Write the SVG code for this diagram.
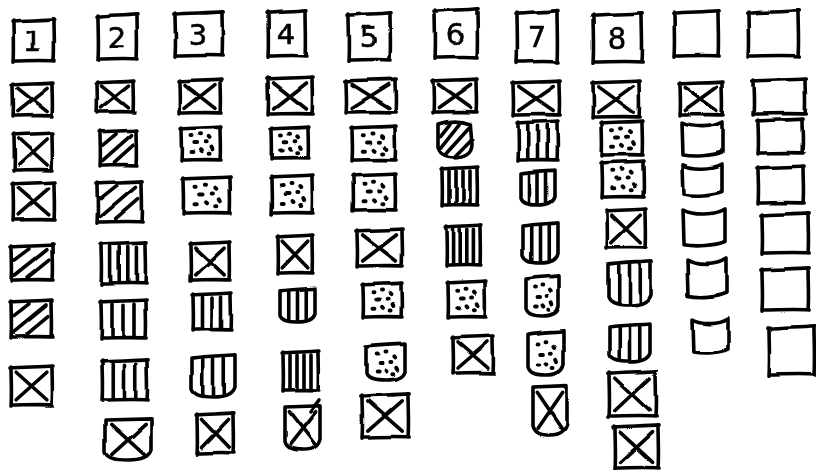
<svg xmlns="http://www.w3.org/2000/svg" xmlns:xlink="http://www.w3.org/1999/xlink" width="816" height="470" viewBox="0 0 816 470">
<style>
.d{font-family:"DejaVu Sans",sans-serif;font-size:29px;fill:#000;stroke:#000;stroke-width:0.6;text-anchor:middle;dominant-baseline:central}
</style>
<defs>
<filter id="wob" x="-5%" y="-5%" width="110%" height="110%">
<feTurbulence type="fractalNoise" baseFrequency="0.025" numOctaves="1" seed="3" result="n"/>
<feDisplacementMap in="SourceGraphic" in2="n" scale="4" xChannelSelector="R" yChannelSelector="G"/>
</filter>
<symbol id="be" viewBox="0 0 40 36" preserveAspectRatio="none" overflow="visible">
<path vector-effect="non-scaling-stroke" d="M-1,1 C12,0 28,0 41,-1 M40,-1 C40,12 41,24 40,36 M41,36 C28,35 12,36 0,36 M0,37 C1,24 0,12 0,0"/>
</symbol>
<symbol id="bx" viewBox="0 0 40 36" preserveAspectRatio="none" overflow="visible">
<path vector-effect="non-scaling-stroke" d="M-1,1 C12,0 28,0 41,-1 M40,-1 C40,12 41,24 40,36 M41,36 C28,35 12,36 0,36 M0,37 C1,24 0,12 0,0"/>
<path vector-effect="non-scaling-stroke" d="M5,5 L35,31 M35,5 L5,31"/>
</symbol>
<symbol id="bh" viewBox="0 0 40 36" preserveAspectRatio="none" overflow="visible">
<path vector-effect="non-scaling-stroke" d="M-1,1 C12,0 28,0 41,-1 M40,-1 C40,12 41,24 40,36 M41,36 C28,35 12,36 0,36 M0,37 C1,24 0,12 0,0"/>
<path vector-effect="non-scaling-stroke" d="M3,15 L18,3 M3,31 L35,4 M16,33 L37,15"/>
</symbol>
<symbol id="bv3" viewBox="0 0 40 36" preserveAspectRatio="none" overflow="visible">
<path vector-effect="non-scaling-stroke" d="M-1,1 C12,0 28,0 41,-1 M40,-1 C40,12 41,24 40,36 M41,36 C28,35 12,36 0,36 M0,37 C1,24 0,12 0,0"/>
<path vector-effect="non-scaling-stroke" d="M10,3 V35 M20,4 V34 M30,3 V35"/>
</symbol>
<symbol id="bv4" viewBox="0 0 40 36" preserveAspectRatio="none" overflow="visible">
<path vector-effect="non-scaling-stroke" d="M-1,1 C12,0 28,0 41,-1 M40,-1 C40,12 41,24 40,36 M41,36 C28,35 12,36 0,36 M0,37 C1,24 0,12 0,0"/>
<path vector-effect="non-scaling-stroke" d="M8,3 V35 M16,3 V34 M24,3 V35 M32,3 V34"/>
</symbol>
<symbol id="bd" viewBox="0 0 40 36" preserveAspectRatio="none" overflow="visible">
<path vector-effect="non-scaling-stroke" d="M-1,1 C12,0 28,0 41,-1 M40,-1 C40,12 41,24 40,36 M41,36 C28,35 12,36 0,36 M0,37 C1,24 0,12 0,0"/>
<path vector-effect="non-scaling-stroke" stroke-width="4" d="M10,9h1 M19,7h1 M28,10l1,1 M14,17h3 M25,16h1 M31,22l1,2 M10,27h2 M20,25l1,1 M28,29h1"/>
</symbol>
<symbol id="sx" viewBox="0 0 40 36" preserveAspectRatio="none" overflow="visible">
<path vector-effect="non-scaling-stroke" d="M0,0 L40,-1 L40,27 C38,34 30,36 20,36 C10,36 2,35 0,29 Z"/>
<path vector-effect="non-scaling-stroke" d="M5,4 L34,31 M35,4 L6,31"/>
</symbol>
<symbol id="sh" viewBox="0 0 40 36" preserveAspectRatio="none" overflow="visible">
<path vector-effect="non-scaling-stroke" d="M0,2 C14,-2 26,-2 38,2 L40,22 C40,32 30,36 20,36 C8,36 0,32 0,24 Z"/>
<path vector-effect="non-scaling-stroke" d="M3,14 L14,2 M3,26 L25,2 M8,33 L36,6 M20,35 L39,18"/>
</symbol>
<symbol id="sv" viewBox="0 0 40 36" preserveAspectRatio="none" overflow="visible">
<path vector-effect="non-scaling-stroke" d="M0,1 C14,-1 28,-1 40,-2 L40,27 C38,34 30,36 20,36 C10,36 2,35 0,29 Z"/>
<path vector-effect="non-scaling-stroke" d="M10,2 V34 M20,1 V35 M30,1 V33"/>
</symbol>
<symbol id="sd" viewBox="0 0 40 36" preserveAspectRatio="none" overflow="visible">
<path vector-effect="non-scaling-stroke" d="M0,1 C14,-1 28,-1 40,-2 L40,27 C38,34 30,36 20,36 C10,36 2,35 0,29 Z"/>
<path vector-effect="non-scaling-stroke" stroke-width="4" d="M11,9h1 M20,7h1 M29,11l1,1 M14,18h3 M25,17h1 M31,23l1,2 M11,27h2 M20,26l1,1 M27,30h1"/>
</symbol>
<symbol id="cu" viewBox="0 0 40 36" preserveAspectRatio="none" overflow="visible">
<path vector-effect="non-scaling-stroke" d="M0,1 C10,6 30,6 40,0 L40,30 C30,34 12,35 1,33 Z"/>
</symbol>
</defs>

<g fill="none" stroke="#000" stroke-width="3.6" stroke-linecap="round" stroke-linejoin="round" filter="url(#wob)">

<!-- column 1 -->
<g id="c1-r0"><use href="#be" x="14" y="20" width="39" height="41"/><text class="d" x="33" y="41">1</text></g>
<g id="c1-r1"><use href="#bx" x="13" y="84" width="39" height="32"/></g>
<g id="c1-r2"><use href="#bx" x="14" y="134" width="38" height="36"/></g>
<g id="c1-r3"><use href="#bx" x="13" y="183" width="41" height="37"/></g>
<g id="c1-r4"><use href="#bh" x="12" y="246" width="40" height="34"/></g>
<g id="c1-r5"><use href="#bh" x="11" y="302" width="40" height="35"/></g>
<g id="c1-r6"><use href="#bx" x="11" y="367" width="41" height="38"/></g>

<!-- column 2 -->
<g id="c2-r0"><use href="#be" x="98" y="15" width="39" height="45"/><text class="d" x="117" y="38">2</text></g>
<g id="c2-r1"><use href="#bx" x="97" y="82" width="36" height="30"/></g>
<g id="c2-r2"><use href="#bh" x="100" y="131" width="36" height="34"/></g>
<g id="c2-r3"><use href="#bh" x="97" y="182" width="44" height="40"/></g>
<g id="c2-r4"><use href="#bv4" x="102" y="243" width="43" height="40"/></g>
<g id="c2-r5"><use href="#bv3" x="101" y="300" width="44" height="38"/></g>
<g id="c2-r6"><use href="#bv3" x="102" y="361" width="45" height="39"/></g>
<g id="c2-r7"><use href="#sx" x="105" y="420" width="46" height="40"/></g>

<!-- column 3 -->
<g id="c3-r0"><use href="#be" x="175" y="13" width="47" height="42"/><text class="d" x="198" y="35">3</text></g>
<g id="c3-r1"><use href="#bx" x="180" y="80" width="40" height="33"/></g>
<g id="c3-r2"><use href="#bd" x="182" y="128" width="38" height="32"/></g>
<g id="c3-r3"><use href="#bd" x="183" y="178" width="46" height="35"/></g>
<g id="c3-r4"><use href="#bx" x="191" y="243" width="38" height="37"/></g>
<g id="c3-r5"><use href="#bv3" x="193" y="294" width="38" height="36"/></g>
<g id="c3-r6"><use href="#sv" x="192" y="357" width="43" height="40"/></g>
<g id="c3-r7"><use href="#bx" x="197" y="414" width="36" height="39"/></g>

<!-- column 4 -->
<g id="c4-r0"><use href="#be" x="268" y="11" width="37" height="46"/><text class="d" x="286" y="34">4</text></g>
<g id="c4-r1"><use href="#bx" x="268" y="78" width="44" height="36"/></g>
<g id="c4-r2"><use href="#bd" x="272" y="128" width="36" height="30"/></g>
<g id="c4-r3"><use href="#bd" x="272" y="177" width="39" height="36"/></g>
<g id="c4-r4"><use href="#bx" x="278" y="236" width="34" height="37"/></g>
<g id="c4-r5"><use href="#sv" x="280" y="290" width="35" height="32"/></g>
<g id="c4-r6"><use href="#bv4" x="283" y="352" width="35" height="38"/></g>
<g id="c4-r7"><use href="#sx" x="285" y="407" width="35" height="43"/><path d="M310,412 L319,400"/></g>

<!-- column 5 -->
<g id="c5-r0"><use href="#be" x="349" y="14" width="41" height="46"/><text class="d" x="369" y="37">5</text></g>
<g id="c5-r1"><use href="#bx" x="346" y="80" width="49" height="32"/></g>
<g id="c5-r2"><use href="#bd" x="352" y="127" width="43" height="33"/></g>
<g id="c5-r3"><use href="#bd" x="353" y="175" width="42" height="35"/></g>
<g id="c5-r4"><use href="#bx" x="357" y="230" width="45" height="36"/></g>
<g id="c5-r5"><use href="#bd" x="363" y="284" width="38" height="33"/></g>
<g id="c5-r6"><use href="#sd" x="366" y="346" width="39" height="34"/></g>
<g id="c5-r7"><use href="#bx" x="362" y="395" width="46" height="42"/></g>

<!-- column 6 -->
<g id="c6-r0"><use href="#be" x="435" y="10" width="42" height="47"/><text class="d" x="455" y="34">6</text></g>
<g id="c6-r1"><use href="#bx" x="433" y="80" width="43" height="32"/></g>
<g id="c6-r2"><use href="#sh" x="438" y="122" width="34" height="35"/></g>
<g id="c6-r3"><use href="#bv4" x="442" y="168" width="35" height="37"/></g>
<g id="c6-r4"><use href="#bv4" x="447" y="226" width="33" height="39"/></g>
<g id="c6-r5"><use href="#bd" x="448" y="282" width="37" height="35"/></g>
<g id="c6-r6"><use href="#bx" x="453" y="337" width="40" height="36"/></g>

<!-- column 7 -->
<g id="c7-r0"><use href="#be" x="517" y="12" width="40" height="50"/><text class="d" x="537" y="37">7</text></g>
<g id="c7-r1"><use href="#bx" x="513" y="82" width="46" height="33"/></g>
<g id="c7-r2"><use href="#bv3" x="518" y="122" width="39" height="38"/></g>
<g id="c7-r3"><use href="#sv" x="521" y="172" width="34" height="33"/></g>
<g id="c7-r4"><use href="#sv" x="523" y="225" width="35" height="38"/></g>
<g id="c7-r5"><use href="#sd" x="526" y="278" width="33" height="38"/></g>
<g id="c7-r6"><use href="#sd" x="528" y="333" width="35" height="42"/></g>
<g id="c7-r7"><use href="#sx" x="533" y="387" width="34" height="48"/></g>

<!-- column 8 -->
<g id="c8-r0"><use href="#be" x="593" y="15" width="48" height="46"/><text class="d" x="617" y="38">8</text></g>
<g id="c8-r1"><use href="#bx" x="593" y="82" width="46" height="35"/></g>
<g id="c8-r2"><use href="#bd" x="602" y="122" width="40" height="33"/></g>
<g id="c8-r3"><use href="#bd" x="602" y="162" width="41" height="35"/></g>
<g id="c8-r4"><use href="#bx" x="607" y="210" width="38" height="38"/></g>
<g id="c8-r5"><use href="#sv" x="608" y="264" width="43" height="41"/></g>
<g id="c8-r6"><use href="#sv" x="609" y="326" width="41" height="36"/></g>
<g id="c8-r7"><use href="#bx" x="609" y="372" width="46" height="45"/></g>
<g id="c8-r8"><use href="#bx" x="615" y="427" width="43" height="41"/></g>

<!-- column 9 -->
<g id="c9-r0"><use href="#be" x="674" y="12" width="44" height="44"/></g>
<g id="c9-r1"><use href="#bx" x="680" y="83" width="42" height="32"/></g>
<g id="c9-r2"><use href="#cu" x="682" y="122" width="40" height="36"/></g>
<g id="c9-r3"><use href="#cu" x="683" y="164" width="39" height="33"/></g>
<g id="c9-r4"><use href="#cu" x="683" y="209" width="42" height="39"/></g>
<g id="c9-r5"><use href="#cu" x="687" y="258" width="40" height="42"/></g>
<g id="c9-r6"><use href="#cu" x="692" y="319" width="36" height="36"/></g>

<!-- column 10 -->
<g id="c10-r0"><use href="#be" x="748" y="12" width="50" height="44"/></g>
<g id="c10-r1"><use href="#be" x="753" y="80" width="52" height="34"/></g>
<g id="c10-r2"><use href="#be" x="758" y="120" width="44" height="33"/></g>
<g id="c10-r3"><use href="#be" x="758" y="167" width="45" height="36"/></g>
<g id="c10-r4"><use href="#be" x="762" y="214" width="46" height="39"/></g>
<g id="c10-r5"><use href="#be" x="762" y="269" width="46" height="41"/></g>
<g id="c10-r6"><use href="#be" x="769" y="327" width="45" height="47"/></g>

</g>
</svg>
